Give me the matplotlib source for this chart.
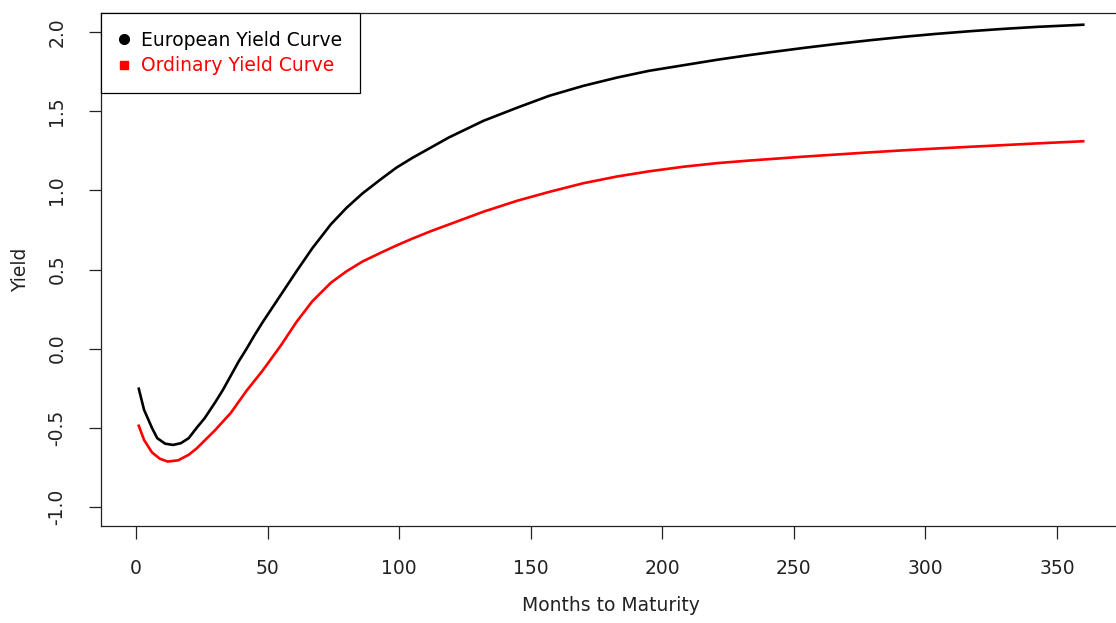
import matplotlib
matplotlib.use("Agg")
import matplotlib.pyplot as plt
from matplotlib.lines import Line2D

# values
months_eu = [1, 3, 6, 8, 11, 14, 17, 20, 23, 26, 30, 33, 36, 39, 42, 45, 48,
             52, 55, 61, 67, 74, 80, 86, 93, 99, 105, 112, 119, 132, 145, 157,
             170, 183, 195, 208, 221, 233, 241, 254, 266, 279, 292, 304, 317,
             329, 342, 360]
european = [-0.253, -0.386, -0.50, -0.565, -0.60, -0.608, -0.597, -0.565,
            -0.50, -0.44, -0.34, -0.26, -0.17, -0.08, 0.00, 0.085, 0.165,
            0.265, 0.34, 0.49, 0.635, 0.785, 0.89, 0.98, 1.07, 1.144, 1.205,
            1.27, 1.335, 1.439, 1.523, 1.597, 1.66, 1.713, 1.755, 1.79, 1.825,
            1.854, 1.872, 1.900, 1.924, 1.948, 1.970, 1.988, 2.005, 2.019,
            2.032, 2.046]
months_ord = [1, 3, 6, 9, 12, 16, 20, 23, 30, 36, 42, 48, 55, 61, 67, 74, 80,
              86, 93, 99, 105, 112, 119, 132, 145, 157, 170, 183, 195, 208,
              221, 233, 244, 254, 266, 279, 292, 304, 317, 329, 342, 360]
ordinary = [-0.487, -0.576, -0.655, -0.695, -0.713, -0.705, -0.67, -0.63,
            -0.515, -0.405, -0.265, -0.14, 0.02, 0.17, 0.30, 0.416, 0.489,
            0.55, 0.606, 0.652, 0.695, 0.742, 0.785, 0.865, 0.935, 0.99,
            1.045, 1.088, 1.12, 1.149, 1.172, 1.188, 1.201, 1.213, 1.226,
            1.240, 1.253, 1.264, 1.275, 1.285, 1.296, 1.31]
xticks = [0, 50, 100, 150, 200, 250, 300, 350]
yticks = [-1.0, -0.5, 0.0, 0.5, 1.0, 1.5, 2.0]

plt.rcParams['font.family'] = 'DejaVu Sans'
fs = 13.5

fig = plt.figure(figsize=(11.16, 6.23), dpi=100)
# right edge of the box lies outside the picture, like the reference crop
ax = fig.add_axes([101 / 1116, 97 / 623, 1020 / 1116, 513 / 623])

ax.plot(months_eu, european, color='black', lw=1.9)
ax.plot(months_ord, ordinary, color='red', lw=1.9)

# R style 4% padding
xr = 360 - 1
ax.set_xlim(1 - 0.04 * xr, 360 + 0.04 * xr)
ax.set_ylim(-1.0 - 0.04 * 3, 2.0 + 0.04 * 3)

ax.set_xticks(xticks)
ax.set_xticklabels([str(t) for t in xticks], fontsize=fs, color='#222222')
ax.set_yticks(yticks)
ax.set_yticklabels(['%.1f' % t for t in yticks], fontsize=fs, color='#222222',
                   rotation=90, va='center')
ax.tick_params(direction='out', length=9, width=0.9, color='#222222')
ax.tick_params(axis='x', pad=15)
ax.tick_params(axis='y', pad=16)
for s in ax.spines.values():
    s.set_linewidth(0.9)
    s.set_color('#222222')

ax.set_xlabel('Months to Maturity', fontsize=fs, color='#222222')
ax.xaxis.label.set_va('center')
ax.xaxis.set_label_coords(0.5, -0.154)
ax.set_ylabel('Yield', fontsize=fs, color='#222222')
ax.yaxis.label.set_va('center')
ax.yaxis.set_label_coords(-0.079, 0.5)

handles = [Line2D([], [], marker='o', color='black', ls='none', markersize=7),
           Line2D([], [], marker='s', color='red', ls='none', markersize=6)]
leg = ax.legend(handles, ['European Yield Curve', 'Ordinary Yield Curve'],
                loc='upper left', bbox_to_anchor=(0, 1), borderaxespad=0,
                fontsize=fs, fancybox=False, framealpha=1, edgecolor='black',
                handlelength=0.6, handletextpad=0.6, borderpad=0.95,
                labelspacing=0.35, labelcolor=['black', 'red'])
leg.get_frame().set_linewidth(0.9)

fig.savefig('out.png', dpi=100)
